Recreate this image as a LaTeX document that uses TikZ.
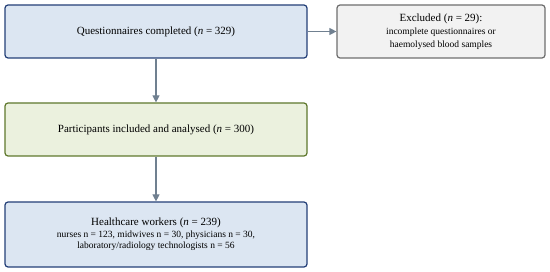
\documentclass[tikz,border=0pt]{standalone}
\usepackage{fontspec}
\setmainfont{Liberation Serif}
\usetikzlibrary{arrows.meta}

\definecolor{blueFill}{RGB}{220,230,242}
\definecolor{blueLine}{RGB}{36,64,120}
\definecolor{greenFill}{RGB}{235,241,222}
\definecolor{greenLine}{RGB}{95,120,45}
\definecolor{greyFill}{RGB}{242,242,242}
\definecolor{greyLine}{RGB}{110,110,110}
\definecolor{arrowGrey}{RGB}{112,128,144}

\tikzset{
  flowbox/.style={draw, line width=1.2pt, rounded corners=3pt, align=center, inner sep=2pt},
  flowarrow/.style={draw=arrowGrey, line width=1.2pt, -{Triangle[length=7pt,width=7pt]}}
}

\begin{document}
\begin{tikzpicture}[x=1pt, y=1pt]
                % Fixed page size
                \useasboundingbox (0,0) rectangle (550,271);

                % Boxes of the flow
                \node[flowbox, draw=blueLine, fill=blueFill, minimum width=302pt, minimum height=53pt, font=\fontsize{11}{13}\selectfont] (completed) at (156,239.5) {Questionnaires completed (\textit{n} = 329)};
                \node[flowbox, draw=greyLine, fill=greyFill, minimum width=208pt, minimum height=53pt, font=\fontsize{9.5}{13}\selectfont] (excluded) at (441,239.5) {{\fontsize{11}{13}\selectfont Excluded (\textit{n} = 29):}\\incomplete questionnaires or\\haemolysed blood samples};
                \node[flowbox, draw=greenLine, fill=greenFill, minimum width=302pt, minimum height=53pt, font=\fontsize{11}{13}\selectfont] (included) at (156,141.5) {Participants included and analysed (\textit{n} = 300)};
                \node[flowbox, draw=blueLine, fill=blueFill, minimum width=302pt, minimum height=65pt, font=\fontsize{9.5}{11.5}\selectfont] (workers) at (156,36.5) {{\fontsize{11}{13}\selectfont Healthcare workers (\textit{n} = 239)}\\nurses n = 123, midwives n = 30, physicians n = 30,\\laboratory/radiology technologists n = 56};

                % Connectors
                \draw[flowarrow] (completed) -- (excluded);
                \draw[flowarrow] (completed) -- (included);
                \draw[flowarrow] (included) -- (workers);
            \end{tikzpicture}
\end{document}
